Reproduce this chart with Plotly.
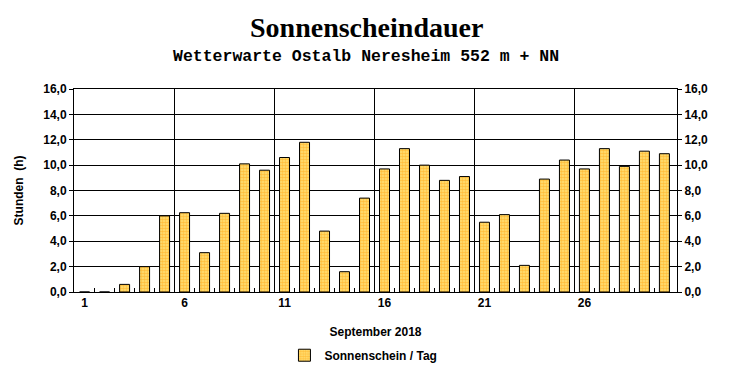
import plotly.graph_objects as go

days = list(range(1, 31))
sunshine = [0.0, 0.0, 0.6, 2.0, 6.0, 6.25, 3.1, 6.2, 10.1, 9.6,
            10.6, 11.8, 4.8, 1.6, 7.4, 9.7, 11.3, 10.0, 8.8, 9.1,
            5.5, 6.1, 2.1, 8.9, 10.4, 9.7, 11.3, 9.9, 11.1, 10.9]
x_label_days = [1, 6, 11, 16, 21, 26]
x_grid_pos = [5.5, 10.5, 15.5, 20.5, 25.5]
x_minor_pos = [d + 0.5 for d in range(1, 30)]
y_ticks = [0, 2, 4, 6, 8, 10, 12, 14, 16]
y_tick_text = ["0,0", "2,0", "4,0", "6,0", "8,0", "10,0", "12,0", "14,0", "16,0"]

tickfont = dict(family="Liberation Sans, Arial", size=12, color="black", weight="bold")

fig = go.Figure()
fig.add_trace(go.Bar(
    x=days, y=sunshine, width=0.5, name="Sonnenschein / Tag",
    marker=dict(color="#FFD060", line=dict(color="black", width=1),
                pattern=dict(shape=".", fgcolor="#FF9C00", bgcolor="#FFE27A",
                             size=3, solidity=0.6, fillmode="overlay")),
    xaxis="x", yaxis="y",
))
# invisible trace for right axis
fig.add_trace(go.Scatter(x=[days[0]], y=[sunshine[0]], xaxis="x2", yaxis="y2",
                         mode="markers", marker=dict(opacity=0), showlegend=False,
                         hoverinfo="skip"))

xr = [0.47, 30.63]
fig.update_layout(
    width=732, height=380,
    margin=dict(l=74, r=55, t=89, b=87),
    paper_bgcolor="white", plot_bgcolor="white",
    showlegend=True,
    legend=dict(orientation="h", x=0.48, xanchor="center", y=-0.305, yanchor="middle",
                font=dict(family="Liberation Sans, Arial", size=12, color="black", weight="bold"),
                itemwidth=30),
    xaxis=dict(range=xr, tickmode="array", tickvals=x_label_days,
               ticktext=[str(d) for d in x_label_days], ticks="", showgrid=False,
               showline=True, linecolor="black", linewidth=1, mirror=True,
               tickfont=tickfont, zeroline=False,
               minor=dict(tickmode="array", tickvals=x_minor_pos, ticks="inside",
                          ticklen=4, tickcolor="black", showgrid=False),
               title=dict(text="September 2018", standoff=18,
                          font=dict(family="Liberation Sans, Arial", size=12, color="black", weight="bold"))),
    xaxis2=dict(range=xr, overlaying="x", tickmode="array", tickvals=x_grid_pos,
                showticklabels=False, ticks="", showgrid=True, gridcolor="black",
                gridwidth=1, showline=False, zeroline=False),
    yaxis=dict(range=[0, 16], tickmode="array", tickvals=y_ticks, ticktext=y_tick_text,
               ticks="outside", ticklen=4, tickcolor="black", showgrid=True,
               gridcolor="black", gridwidth=1, showline=True, linecolor="black",
               mirror=True, tickfont=tickfont, zeroline=False),
    yaxis2=dict(range=[0, 16], overlaying="y", side="right", anchor="x",
                tickmode="array", tickvals=y_ticks, ticktext=y_tick_text,
                ticks="outside", ticklen=4, tickcolor="black", showgrid=False,
                tickfont=tickfont, zeroline=False, showline=False),
    annotations=[
        dict(text="<b>Sonnenscheindauer</b>", xref="paper", yref="paper",
             x=0.485, y=1.304, xanchor="center", yanchor="middle", showarrow=False,
             font=dict(family="Liberation Serif, Times New Roman", size=28, color="black")),
        dict(text="<b>Wetterwarte Ostalb Neresheim 552 m + NN</b>", xref="paper", yref="paper",
             x=0.485, y=1.162, xanchor="center", yanchor="middle", showarrow=False,
             font=dict(family="Liberation Mono, Courier New", size=16.5, color="black")),
        dict(text="<b>Stunden  (h)</b>", xref="paper", yref="paper",
             x=(19 - 74) / 602, y=0.5, xanchor="center", yanchor="middle",
             textangle=-90, showarrow=False,
             font=dict(family="Liberation Sans, Arial", size=12, color="black")),
    ],
)

fig.write_html("out.html")
